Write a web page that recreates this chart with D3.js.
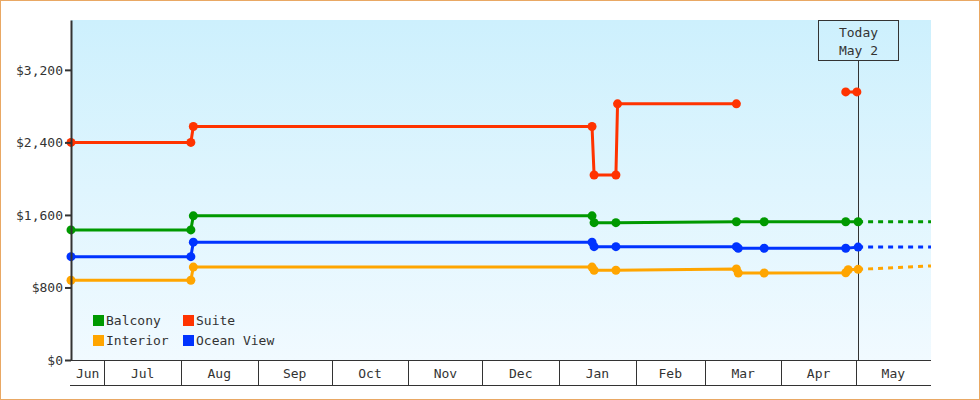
<!DOCTYPE html>
<html>
<head>
<meta charset="utf-8">
<script src="https://cdn.jsdelivr.net/npm/d3@7"></script>
<style>
  html, body { margin: 0; padding: 0; background: #fff; }
  svg { display: block; }
  text { font-family: "DejaVu Sans Mono", "Liberation Mono", monospace; font-size: 13px; fill: #333; }
</style>
</head>
<body>
<svg id="chart" width="980" height="400"></svg>
<script>
// ---------- DATA ----------
const categories = ["Balcony", "Suite", "Interior", "Ocean View"];
const colors = ["#009900", "#ff3300", "#ffa500", "#0033ff"];
const yTickValues = [0, 800, 1600, 2400, 3200];
const domainStart = "2018-06-17T12:00";
const domainEnd = "2019-05-31T12:00";
const todayDate = "2019-05-02T00:00";
const todayLabel = ["Today", "May 2"];

const balcony = [
  ["2018-06-17T12:00", 1435], ["2018-08-05T00:00", 1435], ["2018-08-06T00:00", 1590],
  ["2019-01-14T08:00", 1590], ["2019-01-15T04:00", 1515], ["2019-01-24T00:00", 1515],
  ["2019-03-13T18:00", 1525], ["2019-03-25T00:00", 1525], ["2019-04-27T00:00", 1525],
  ["2019-05-02T00:00", 1525]
];
const suite = [
  ["2018-06-17T12:00", 2400], ["2018-08-05T00:00", 2400], ["2018-08-06T00:00", 2575],
  ["2019-01-14T08:00", 2575], ["2019-01-15T04:00", 2040], ["2019-01-24T00:00", 2040],
  ["2019-01-24T16:00", 2825], ["2019-03-13T18:00", 2825], ["2019-03-25T00:00", null],
  ["2019-04-27T00:00", 2957], ["2019-05-01T12:00", 2957]
];
const interior = [
  ["2018-06-17T12:00", 880], ["2018-08-05T00:00", 880], ["2018-08-06T00:00", 1025],
  ["2019-01-14T08:00", 1025], ["2019-01-15T04:00", 990], ["2019-01-24T00:00", 990],
  ["2019-03-13T18:00", 1005], ["2019-03-14T12:00", 960], ["2019-03-25T00:00", 960],
  ["2019-04-27T00:00", 962], ["2019-04-28T00:00", 995], ["2019-05-02T00:00", 1000]
];
const oceanView = [
  ["2018-06-17T12:00", 1140], ["2018-08-05T00:00", 1140], ["2018-08-06T00:00", 1300],
  ["2019-01-14T08:00", 1300], ["2019-01-15T04:00", 1250], ["2019-01-24T00:00", 1250],
  ["2019-03-13T18:00", 1250], ["2019-03-14T12:00", 1232], ["2019-03-25T00:00", 1232],
  ["2019-04-27T00:00", 1232], ["2019-05-02T00:00", 1245]
];
// projections (dashed) after today
const balconyProjection = [["2019-05-02T00:00", 1525], ["2019-05-31T12:00", 1525]];
const interiorProjection = [["2019-05-02T00:00", 1000], ["2019-05-31T12:00", 1037]];
const oceanViewProjection = [["2019-05-02T00:00", 1245], ["2019-05-31T12:00", 1245]];

// ---------- CHART ----------
const parse = d3.isoParse;
const svg = d3.select("#chart");
const W = 980, H = 400;
const plot = { left: 71, right: 931, top: 20, bottom: 360 };

const x = d3.scaleTime().domain([parse(domainStart), parse(domainEnd)]).range([plot.left, plot.right]);
const y = d3.scaleLinear().domain([0, 3750]).range([plot.bottom, plot.top]);

// outer border
svg.append("rect").attr("x", 0.5).attr("y", 0.5).attr("width", W - 1).attr("height", H - 1)
  .attr("fill", "#fff").attr("stroke", "#e9a864").attr("stroke-width", 1);

// background gradient
const defs = svg.append("defs");
const grad = defs.append("linearGradient").attr("id", "bg").attr("x1", 0).attr("y1", 0).attr("x2", 0).attr("y2", 1);
grad.append("stop").attr("offset", "0%").attr("stop-color", "#cdf0fd");
grad.append("stop").attr("offset", "100%").attr("stop-color", "#f1faff");
svg.append("rect").attr("x", plot.left).attr("y", plot.top)
  .attr("width", plot.right - plot.left).attr("height", plot.bottom - plot.top)
  .attr("fill", "url(#bg)");

// today line and box
const tx = Math.round(x(parse(todayDate))) + 0.5;
const boxW = 80, boxH = 40;
svg.append("line").attr("x1", tx).attr("x2", tx).attr("y1", plot.top + boxH).attr("y2", plot.bottom)
  .attr("stroke", "#333").attr("stroke-width", 1);
svg.append("rect").attr("x", tx - boxW / 2).attr("y", plot.top + 0.5).attr("width", boxW).attr("height", boxH)
  .attr("fill", "none").attr("stroke", "#333").attr("stroke-width", 1);
svg.append("text").attr("x", tx).attr("y", 37).attr("text-anchor", "middle").text(todayLabel[0]);
svg.append("text").attr("x", tx).attr("y", 55).attr("text-anchor", "middle").text(todayLabel[1]);

// series
const seriesData = [balcony, suite, interior, oceanView];
const projections = [balconyProjection, null, interiorProjection, oceanViewProjection];
const line = d3.line()
  .defined(d => d[1] !== null)
  .x(d => x(parse(d[0])))
  .y(d => y(d[1]));

const gSeries = svg.append("g");
// draw order: interior, ocean view, balcony, suite
[2, 3, 0, 1].forEach(i => {
  const data = seriesData[i];
  gSeries.append("path").datum(data).attr("d", line)
    .attr("fill", "none").attr("stroke", colors[i]).attr("stroke-width", 3)
    .attr("stroke-linejoin", "round");
  if (projections[i]) {
    gSeries.append("path").datum(projections[i]).attr("d", line)
      .attr("fill", "none").attr("stroke", colors[i]).attr("stroke-width", 3)
      .attr("stroke-dasharray", "5,5");
  }
  gSeries.selectAll(null).data(data.filter(d => d[1] !== null)).enter().append("circle")
    .attr("cx", d => x(parse(d[0]))).attr("cy", d => y(d[1])).attr("r", 4.5)
    .attr("fill", colors[i]);
});

// y axis
const yAxis = d3.axisLeft(y).tickValues(yTickValues)
  .tickFormat(d => "$" + d3.format(",")(d)).tickSize(6).tickSizeOuter(0).tickPadding(2);
const gy = svg.append("g").attr("transform", `translate(${plot.left},0)`).call(yAxis);
gy.select(".domain").attr("stroke", "#333").attr("stroke-width", 2);
gy.selectAll(".tick line").attr("stroke", "#333").attr("stroke-width", 2);
gy.selectAll(".tick text").style("font-family", "'DejaVu Sans Mono', monospace").style("font-size", "13px").attr("fill", "#333");
gy.attr("font-family", null).attr("font-size", null);

// x axis: month bands
const gx = svg.append("g");
gx.append("line").attr("x1", plot.left - 1).attr("x2", plot.right).attr("y1", plot.bottom + 0.5).attr("y2", plot.bottom + 0.5)
  .attr("stroke", "#333").attr("stroke-width", 1);
gx.append("line").attr("x1", plot.left - 1).attr("x2", plot.right).attr("y1", 385.5).attr("y2", 385.5)
  .attr("stroke", "#333").attr("stroke-width", 1);
const [d0, d1] = x.domain();
const months = d3.timeMonth.range(d3.timeMonth.floor(d0), d1);
const fmt = d3.timeFormat("%b");
months.forEach(m => {
  const next = d3.timeMonth.offset(m, 1);
  const a = Math.max(x(m), plot.left);
  const b = Math.min(x(next), plot.right);
  if (m > d0) {
    const sx = Math.round(x(m)) + 0.5;
    gx.append("line").attr("x1", sx).attr("x2", sx).attr("y1", plot.bottom).attr("y2", 385)
      .attr("stroke", "#333").attr("stroke-width", 1);
  }
  gx.append("text").attr("x", (a + b) / 2).attr("y", 378).attr("text-anchor", "middle").text(fmt(m));
});

// legend
const legend = svg.append("g");
categories.forEach((c, i) => {
  const col = i % 2, row = Math.floor(i / 2);
  const lx = 93 + col * 90, ly = 315 + row * 20;
  legend.append("rect").attr("x", lx).attr("y", ly).attr("width", 11).attr("height", 11).attr("fill", colors[i]);
  legend.append("text").attr("x", lx + 13).attr("y", ly + 10).text(c);
});
</script>
</body>
</html>
